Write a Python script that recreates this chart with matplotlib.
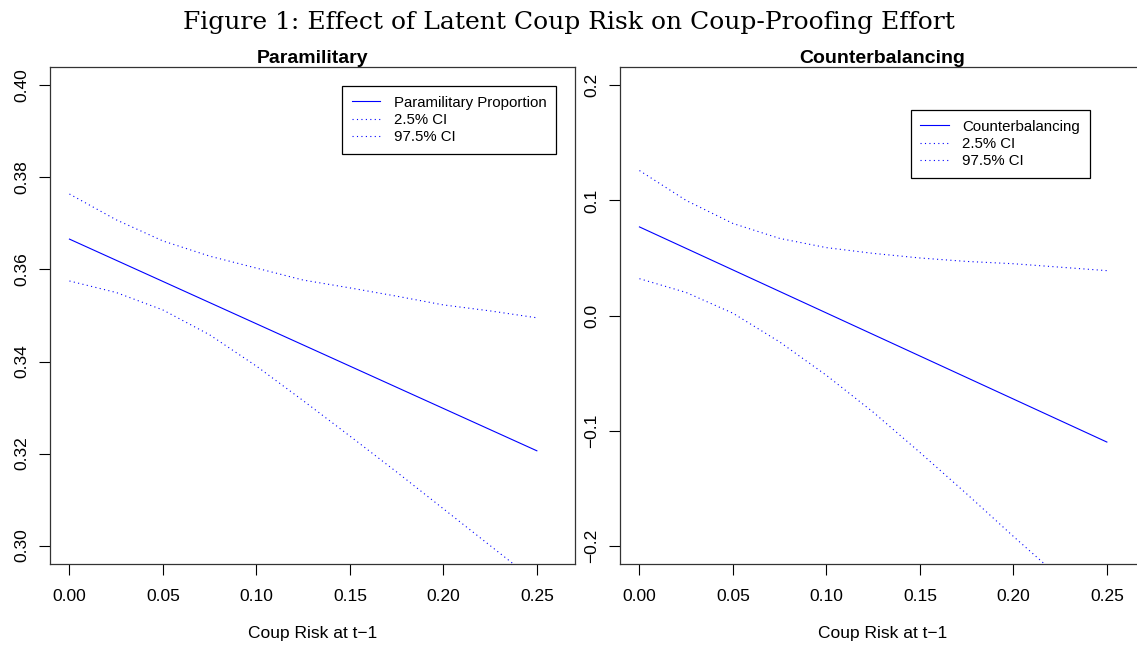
'''
Effect of latent coup risk on coup-proofing effort (two panels, R base-graphics look)
'''

import numpy as np
import matplotlib
matplotlib.use('Agg')
import matplotlib.pyplot as plt

# Coup risk grid (x axis)
coup_risk = [0.0, 0.025, 0.05, 0.075, 0.10, 0.125, 0.15, 0.175, 0.20, 0.225, 0.25]

# Paramilitary panel
para_fit = [0.3666, 0.3620, 0.3574, 0.3528, 0.3482, 0.3436, 0.3390, 0.3344, 0.3298, 0.3252, 0.3206]
para_lo = [0.3575, 0.3550, 0.3512, 0.3458, 0.3390, 0.3315, 0.3238, 0.3160, 0.3080, 0.3000, 0.2920]
para_hi = [0.3764, 0.3708, 0.3662, 0.3629, 0.3603, 0.3577, 0.3560, 0.3542, 0.3523, 0.3510, 0.3495]

# Counterbalancing panel
cb_fit = [0.0770, 0.0583, 0.0396, 0.0209, 0.0022, -0.0165, -0.0352, -0.0539, -0.0726, -0.0913, -0.1100]
cb_lo = [0.032, 0.020, 0.002, -0.023, -0.052, -0.084, -0.119, -0.155, -0.192, -0.228, -0.265]
cb_hi = [0.126, 0.100, 0.080, 0.067, 0.059, 0.054, 0.050, 0.047, 0.045, 0.042, 0.039]

x_ticks = [0.00, 0.05, 0.10, 0.15, 0.20, 0.25]
para_yticks = [0.30, 0.32, 0.34, 0.36, 0.38, 0.40]
cb_yticks = [-0.2, -0.1, 0.0, 0.1, 0.2]

plt.rcParams['font.family'] = ['Liberation Sans', 'DejaVu Sans']


def r_lim(lo, hi):
    # R pads the axis range by 4% on each side
    pad = 0.04 * (hi - lo)
    return lo - pad, hi + pad


def draw_panel(ax, x, fit, lo, hi, title, fit_label, ylim, yticks, yfmt, legend_anchor):
    ax.plot(x, fit, color='#0000FF', lw=0.8, label=fit_label)
    ax.plot(x, lo, color='#0000FF', lw=0.8, ls=(0, (1, 3)), label='2.5% CI')
    ax.plot(x, hi, color='#0000FF', lw=0.8, ls=(0, (1, 3)), label='97.5% CI')

    ax.set_xlim(*r_lim(0, 0.26))
    ax.set_ylim(*r_lim(*ylim))
    ax.set_xticks(x_ticks)
    ax.set_xticklabels([f'{t:.2f}' for t in x_ticks])
    ax.set_yticks(yticks)
    ax.set_yticklabels([yfmt(t).replace('-', '\u2212') for t in yticks],
                       rotation=90, va='center')
    ax.tick_params(length=8, width=0.8, labelsize=12.5, color='black')
    ax.tick_params(axis='x', pad=10)
    ax.tick_params(axis='y', pad=7)
    for s in ax.spines.values():
        s.set_linewidth(0.9)
        s.set_color('#333333')
    ax.set_title(title, fontsize=14, fontweight='bold', pad=3)
    ax.set_xlabel('Coup Risk at t\u22121', fontsize=12.5, labelpad=16)

    leg = ax.legend(loc='upper right', bbox_to_anchor=legend_anchor, fontsize=10.8,
                    frameon=True, fancybox=False, edgecolor='black', framealpha=1,
                    borderpad=0.65, labelspacing=0.22, handlelength=1.9,
                    handletextpad=0.9, borderaxespad=0)
    leg.get_frame().set_linewidth(0.9)


fig = plt.figure(figsize=(11.37, 6.5), dpi=100)
ax1 = fig.add_axes([50 / 1137, 86 / 650, 525 / 1137, 497 / 650])
ax2 = fig.add_axes([620 / 1137, 86 / 650, 525 / 1137, 497 / 650])

draw_panel(ax1, coup_risk, para_fit, para_lo, para_hi, 'Paramilitary',
           'Paramilitary Proportion', (0.30, 0.40), para_yticks,
           lambda t: f'{t:.2f}', (0.964, 0.962))
draw_panel(ax2, coup_risk, cb_fit, cb_lo, cb_hi, 'Counterbalancing',
           'Counterbalancing', (-0.2, 0.2), cb_yticks,
           lambda t: f'{t:.1f}', (0.895, 0.9135))

fig.text(0.5, 0.965, 'Figure 1: Effect of Latent Coup Risk on Coup-Proofing Effort',
         ha='center', va='center', fontsize=18, family='DejaVu Serif')

fig.savefig('out.png', dpi=100)
